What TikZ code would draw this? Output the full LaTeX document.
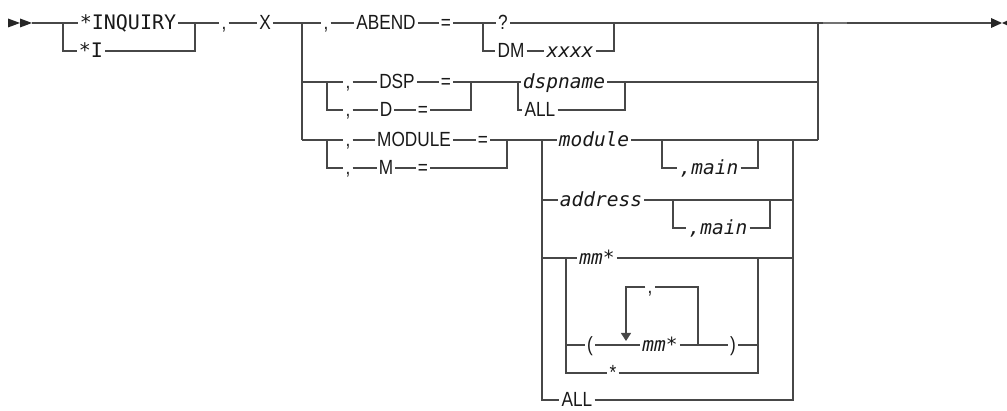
\documentclass[tikz,border=0pt]{standalone}
\usepackage{fontspec}
\newfontfamily\kwfont{Liberation Sans}[FakeStretch=0.84]
\newfontfamily\monofont{DejaVu Sans Mono}
\usetikzlibrary{arrows.meta}

\begin{document}
\begin{tikzpicture}[x=1pt,y=-1pt,line join=miter,line cap=butt,
	rail/.style={line width=1.2pt,draw=black!72},
	tip/.style={fill=black!85},
	kw/.style={font=\kwfont\fontsize{20.5}{20.5}\selectfont,text=black!90,inner xsep=2pt,inner ysep=0pt,text height=12.5pt,text depth=0pt},
	cmd/.style={kw,font=\monofont\fontsize{20}{20}\selectfont},
	var/.style={kw,font=\monofont\itshape\fontsize{19.5}{19.5}\selectfont}]
	\useasboundingbox (0,0) rectangle (1007,411);
	% start and first choice
	\fill[tip] (8,18.5)--(20,23)--(8,27.5)--cycle;
	\fill[tip] (20,18.5)--(32,23)--(20,27.5)--cycle;
	\coordinate (st) at (32,23);
	\coordinate (b1) at (63,23);
	\coordinate (b1d) at (63,51);
	\coordinate (j1) at (195,23);
	\coordinate (j1d) at (195,51);
	\node[cmd] (inq) at (128,23) {*INQUIRY};
	\node[cmd] (ia) at (91,51) {*I};
	\node[kw] (c1) at (224,23) {,};
	\node[kw] (x) at (265,23) {X};
	\draw[rail] (st)--(inq)--(j1)--(c1)--(x);
	\draw[rail] (b1)--(b1d)--(ia)--(j1d)--(j1);
	% ABEND
	\coordinate (b2) at (302,23);
	\coordinate (b3) at (483,23);
	\coordinate (b3d) at (483,51);
	\coordinate (j3) at (614,23);
	\coordinate (j3d) at (614,51);
	\coordinate (r1) at (818,23);
	\coordinate (dk1) at (823,23);
	\coordinate (dk2) at (847,23);
	\coordinate (e0) at (991,23);
	\node[kw] (c2) at (326,23) {,};
	\node[kw] (abend) at (386,23) {ABEND};
	\node[kw] (eq1) at (446,23) {=};
	\node[kw] (q) at (503,23) {?};
	\node[kw] (dm) at (511,51) {DM};
	\node[var] (xxxx) at (570,51) {xxxx};
	\draw[rail] (x)--(b2)--(c2)--(abend)--(eq1)--(b3)--(q)--(j3)--(r1)--(e0);
	\draw[rail] (b3)--(b3d)--(dm)--(xxxx)--(j3d)--(j3);
	\draw[line width=2pt,draw=black!55] (dk1)--(dk2);
	\fill[tip] (991,18)--(1002,23)--(991,28)--cycle;
	\fill[tip] (1013,18)--(1002,23)--(1013,28)--cycle;
	% DSP
	\coordinate (b2a) at (302,82);
	\coordinate (b2m) at (302,140);
	\coordinate (d1) at (327,82);
	\coordinate (d1d) at (327,110);
	\coordinate (d2) at (471,82);
	\coordinate (d2d) at (471,110);
	\coordinate (d3) at (518,82);
	\coordinate (d3d) at (518,110);
	\coordinate (d4) at (625,82);
	\coordinate (d4d) at (625,110);
	\coordinate (r2) at (818,82);
	\coordinate (r3) at (818,140);
	\node[kw] (c3) at (348,82) {,};
	\node[kw] (dsp) at (397,82) {DSP};
	\node[kw] (eq2) at (446,82) {=};
	\node[kw] (c4) at (348,110) {,};
	\node[kw] (dd) at (386,110) {D};
	\node[kw] (eq3) at (423,110) {=};
	\node[var] (dspn) at (564,82) {dspname};
	\node[kw] (alla) at (540,110) {ALL};
	\draw[rail] (b2)--(b2m);
	\draw[rail] (b2a)--(d1)--(c3)--(dsp)--(eq2)--(d2)--(d3)--(dspn)--(d4)--(r2);
	\draw[rail] (d1)--(d1d)--(c4)--(dd)--(eq3)--(d2d)--(d2);
	\draw[rail] (d3)--(d3d)--(alla)--(d4d)--(d4);
	\draw[rail] (r1)--(r3);
	% MODULE
	\coordinate (m1) at (327,140);
	\coordinate (m1d) at (327,168);
	\coordinate (m2) at (507,140);
	\coordinate (m2d) at (507,168);
	\coordinate (m3) at (542,140);
	\coordinate (m4) at (662,140);
	\coordinate (m4d) at (662,168);
	\coordinate (m5) at (758,140);
	\coordinate (m5d) at (758,168);
	\coordinate (m6) at (793,140);
	\node[kw] (c5) at (348,140) {,};
	\node[kw] (modk) at (414,140) {MODULE};
	\node[kw] (eq4) at (483,140) {=};
	\node[kw] (c6) at (348,168) {,};
	\node[kw] (mk) at (386,168) {M};
	\node[kw] (eq5) at (423,168) {=};
	\node[var] (modv) at (594,140) {module};
	\node[var] (main1) at (709,168) {,main};
	\draw[rail] (b2m)--(m1)--(c5)--(modk)--(eq4)--(m2)--(m3)--(modv)--(m4)--(m5)--(m6)--(r3);
	\draw[rail] (m1)--(m1d)--(c6)--(mk)--(eq5)--(m2d)--(m2);
	\draw[rail] (m4)--(m4d)--(main1)--(m5d)--(m5);
	% address
	\coordinate (a0) at (542,200);
	\coordinate (a1) at (673,200);
	\coordinate (a1d) at (673,228);
	\coordinate (a2) at (770,200);
	\coordinate (a2d) at (770,228);
	\coordinate (a3) at (793,200);
	\node[var] (addr) at (601,200) {address};
	\node[var] (main2) at (718,228) {,main};
	\draw[rail] (a0)--(addr)--(a1)--(a2)--(a3);
	\draw[rail] (a1)--(a1d)--(main2)--(a2d)--(a2);
	% mm*
	\coordinate (p0) at (542,258);
	\coordinate (p1) at (566,258);
	\coordinate (p1d) at (566,345);
	\coordinate (p1s) at (566,373);
	\coordinate (p2) at (758,258);
	\coordinate (p2d) at (758,345);
	\coordinate (p2s) at (758,373);
	\coordinate (p3) at (793,258);
	\coordinate (lj) at (698,345);
	\coordinate (lrt) at (698,287);
	\coordinate (llt) at (626,287);
	\coordinate (la) at (626,345);
	\node[var] (mm1) at (597,258) {mm*};
	\node[kw] (lp) at (590,345) {(};
	\node[var] (mm2) at (660,345) {mm*};
	\node[kw] (rp) at (733,345) {)};
	\node[kw] (cm) at (650,287) {,};
	\node[kw] (star) at (613,373) {*};
	\draw[rail] (p0)--(p1)--(mm1)--(p2)--(p3);
	\draw[rail] (p1)--(p1d)--(lp)--(mm2)--(rp)--(p2d)--(p2);
	\draw[rail] (p1d)--(p1s)--(star)--(p2s)--(p2d);
	\draw[rail,-{Triangle[length=8pt,width=10pt]},shorten >=4pt] (lj)--(lrt)--(cm)--(llt)--(la);
	% ALL
	\coordinate (al0) at (542,400);
	\coordinate (al1) at (793,400);
	\node[kw] (allb) at (577,400) {ALL};
	\draw[rail] (m3)--(al0)--(allb)--(al1)--(m6);
\end{tikzpicture}
\end{document}
